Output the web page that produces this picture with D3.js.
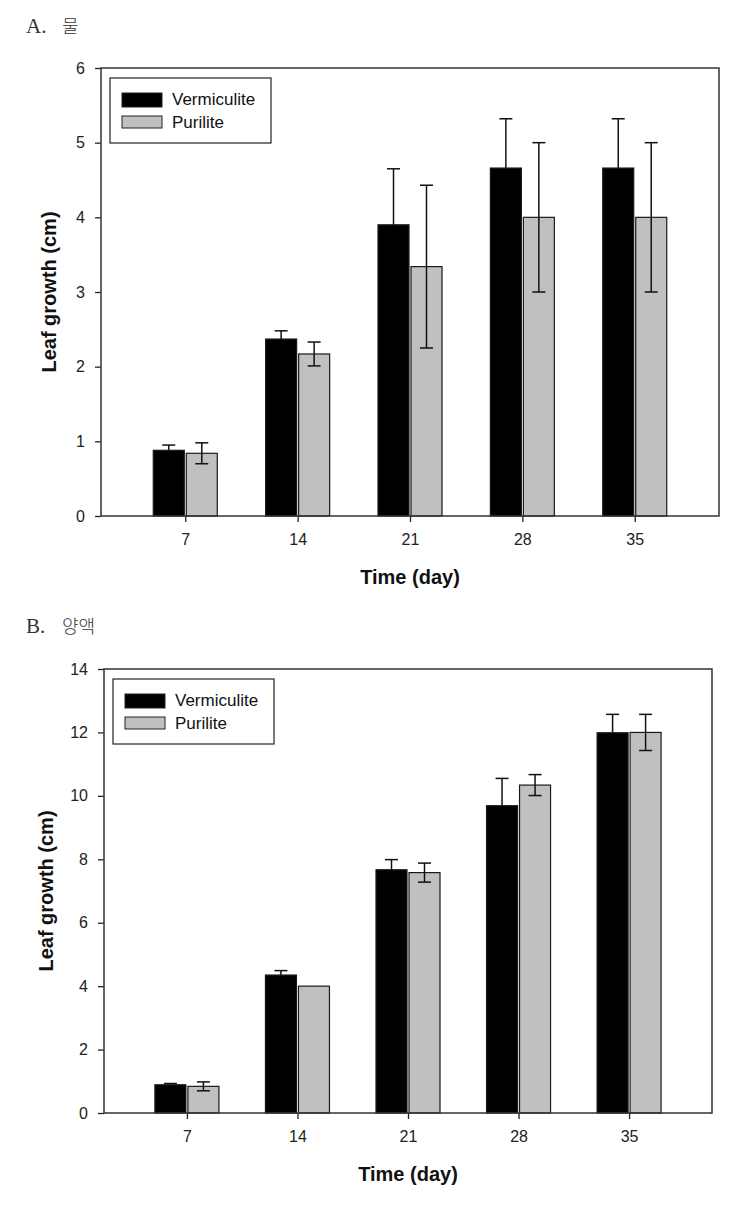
<!DOCTYPE html>
<html>
<head>
<meta charset="utf-8">
<script src="https://cdn.jsdelivr.net/npm/d3@7"></script>
<style>
  html, body { margin: 0; padding: 0; background: #fff; }
  svg { display: block; }
</style>
</head>
<body>
<svg id="chart" width="749" height="1207"></svg>
<script>
// ---- data ----
const days = ["7", "14", "21", "28", "35"];
const seriesNames = ["Vermiculite", "Purilite"];
const seriesColors = ["#000000", "#c0c0c0"];

// Panel A (물)
const aVermiculite = [0.88, 2.37, 3.90, 4.66, 4.66];
const aVermiculiteErr = [0.07, 0.11, 0.75, 0.66, 0.66];
const aPurilite = [0.84, 2.17, 3.34, 4.00, 4.00];
const aPuriliteErr = [0.14, 0.16, 1.09, 1.00, 1.00];
const aTicks = [0, 1, 2, 3, 4, 5, 6];

// Panel B (양액)
const bVermiculite = [0.89, 4.35, 7.67, 9.69, 11.99];
const bVermiculiteErr = [0.04, 0.14, 0.32, 0.86, 0.58];
const bPurilite = [0.84, 4.00, 7.58, 10.34, 12.00];
const bPuriliteErr = [0.14, 0.00, 0.30, 0.33, 0.57];
const bTicks = [0, 2, 4, 6, 8, 10, 12, 14];

const svg = d3.select("#chart");

function panel(cfg) {
  const g = svg.append("g");
  const x = d3.scaleLinear().domain([-0.75, days.length - 0.25]).range([cfg.left, cfg.right]);
  const y = d3.scaleLinear().domain([0, cfg.ymax]).range([cfg.bottom, cfg.top]);
  const barW = 31, gap = 2, capW = 13;

  // title
  const t = g.append("text")
    .attr("x", 26).attr("y", cfg.titleY)
    .attr("font-family", "'Liberation Serif', 'DejaVu Serif', serif")
    .attr("font-size", 21).attr("fill", "#333");
  t.append("tspan").text(cfg.titleLetter);
  t.append("tspan").attr("x", 62)
    .attr("font-family", "'Noto Sans CJK KR', sans-serif")
    .attr("font-size", 18).attr("font-weight", 300)
    .text(cfg.titleKo);

  // bars
  const series = [
    { vals: cfg.v1, errs: cfg.e1, color: seriesColors[0], off: -gap / 2 - barW, lower: false },
    { vals: cfg.v2, errs: cfg.e2, color: seriesColors[1], off: gap / 2, lower: true }
  ];
  series.forEach(s => {
    g.append("g").selectAll("rect").data(s.vals).join("rect")
      .attr("x", (d, i) => x(i) + s.off)
      .attr("y", d => y(d))
      .attr("width", barW)
      .attr("height", d => y(0) - y(d))
      .attr("fill", s.color)
      .attr("stroke", "#1a1a1a")
      .attr("stroke-width", 1.2);
  });
  // error bars (lower half hidden inside the black bars)
  series.forEach(s => {
    const eg = g.append("g").attr("stroke", "#111").attr("stroke-width", 1.5).attr("fill", "none");
    s.vals.forEach((v, i) => {
      const e = s.errs[i];
      if (!e) return;
      const cx = x(i) + s.off + barW / 2;
      const lo = s.lower ? v - e : v;
      eg.append("line").attr("x1", cx).attr("x2", cx).attr("y1", y(v + e)).attr("y2", y(lo));
      eg.append("line").attr("x1", cx - capW / 2).attr("x2", cx + capW / 2).attr("y1", y(v + e)).attr("y2", y(v + e));
      if (s.lower) {
        eg.append("line").attr("x1", cx - capW / 2).attr("x2", cx + capW / 2).attr("y1", y(lo)).attr("y2", y(lo));
      }
    });
  });

  // axes
  const yAxis = d3.axisLeft(y).tickValues(cfg.ticks).tickFormat(d3.format("d")).tickSize(6).tickPadding(10);
  const xAxis = d3.axisBottom(x).tickValues(d3.range(days.length)).tickFormat(i => days[i]).tickSize(6).tickPadding(12);
  const ya = g.append("g").attr("transform", `translate(${cfg.left},0)`).call(yAxis);
  const xa = g.append("g").attr("transform", `translate(0,${cfg.bottom})`).call(xAxis);
  [ya, xa].forEach(a => {
    a.attr("font-size", null);
    a.select(".domain").remove();
    a.selectAll(".tick line").attr("stroke", "#222").attr("stroke-width", 1.3);
    a.selectAll(".tick text").attr("font-family", "'Liberation Sans', Arial, sans-serif")
      .style("font-size", "16px").attr("fill", "#222");
  });

  // frame
  g.append("rect")
    .attr("x", cfg.left).attr("y", cfg.top)
    .attr("width", cfg.right - cfg.left).attr("height", cfg.bottom - cfg.top)
    .attr("fill", "none").attr("stroke", "#333").attr("stroke-width", 1.5);

  // legend
  const lg = g.append("g").attr("transform", `translate(${cfg.left + 9},${cfg.top + 10})`);
  lg.append("rect").attr("x", 0).attr("y", 0).attr("width", 161).attr("height", 65)
    .attr("fill", "#fff").attr("stroke", "#222").attr("stroke-width", 1.2);
  seriesNames.forEach((n, i) => {
    lg.append("rect").attr("x", 12).attr("y", i === 0 ? 15 : 38).attr("width", 40).attr("height", i === 0 ? 14 : 12)
      .attr("fill", seriesColors[i]).attr("stroke", "#222").attr("stroke-width", 1);
    lg.append("text").attr("x", 62).attr("y", i === 0 ? 27 : 50)
      .attr("font-family", "'Liberation Sans', Arial, sans-serif")
      .attr("font-size", 17).attr("fill", "#111").text(n);
  });

  // axis titles
  g.append("text")
    .attr("transform", `translate(${cfg.ylabX},${(cfg.top + cfg.bottom) / 2}) rotate(-90)`)
    .attr("text-anchor", "middle")
    .attr("font-family", "'Liberation Sans', Arial, sans-serif")
    .attr("font-weight", "bold").attr("font-size", 20).attr("fill", "#111")
    .text("Leaf growth (cm)");
  g.append("text")
    .attr("x", (cfg.left + cfg.right) / 2 - 0).attr("y", cfg.bottom + 68)
    .attr("text-anchor", "middle")
    .attr("font-family", "'Liberation Sans', Arial, sans-serif")
    .attr("font-weight", "bold").attr("font-size", 20).attr("fill", "#111")
    .text("Time (day)");
}

panel({ left: 101, right: 719, top: 68, bottom: 516, ymax: 6, ticks: aTicks,
  v1: aVermiculite, e1: aVermiculiteErr, v2: aPurilite, e2: aPuriliteErr,
  titleLetter: "A.", titleKo: "물", titleY: 33, ylabX: 56 });

panel({ left: 104, right: 712, top: 669, bottom: 1113, ymax: 14, ticks: bTicks,
  v1: bVermiculite, e1: bVermiculiteErr, v2: bPurilite, e2: bPuriliteErr,
  titleLetter: "B.", titleKo: "양액", titleY: 633, ylabX: 53 });
</script>
</body>
</html>
